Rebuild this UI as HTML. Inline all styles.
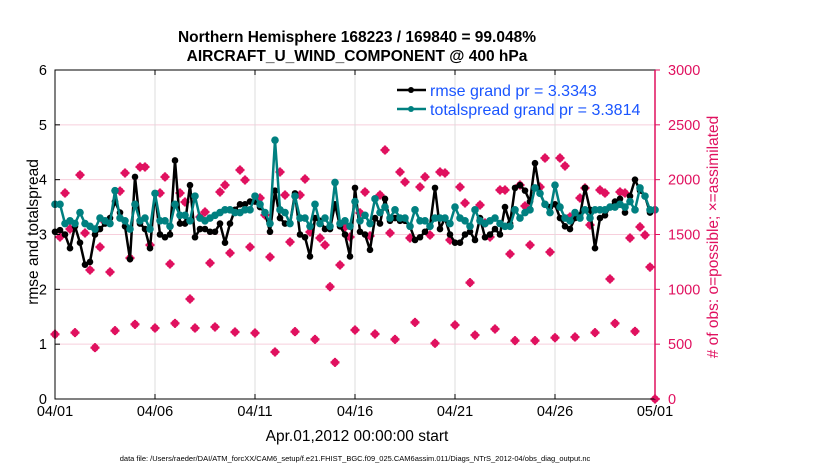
<!DOCTYPE html>
<html><head><meta charset="utf-8"><style>
body{margin:0;background:#fff;}
svg text{font-family:"Liberation Sans",sans-serif;}
</style></head><body>
<svg id="chart" width="830" height="470" viewBox="0 0 830 470" xmlns="http://www.w3.org/2000/svg">
<rect width="830" height="470" fill="#fff"/>
<text x="357" y="42" text-anchor="middle" font-size="15.5" font-weight="bold">Northern Hemisphere 168223 / 169840 = 99.048%</text>
<text x="357" y="61" text-anchor="middle" font-size="15.5" font-weight="bold">AIRCRAFT_U_WIND_COMPONENT @ 400 hPa</text>
<g id="grid"></g>
<g id="obs"></g>
<g id="lines"></g>
<g id="axes"></g>
<g>
<line x1="397" y1="90" x2="426" y2="90" stroke="#000" stroke-width="2.5"/><circle cx="411" cy="90" r="3" fill="#000"/>
<text x="430" y="96" font-size="16" fill="#1a55ff">rmse grand pr = 3.3343</text>
<line x1="397" y1="109" x2="426" y2="109" stroke="#008080" stroke-width="2.5"/><circle cx="411" cy="109" r="3" fill="#008080"/>
<text x="430" y="115" font-size="16" fill="#1a55ff">totalspread grand pr = 3.3814</text>
</g>
<text transform="translate(38,232) rotate(-90)" text-anchor="middle" font-size="15.5">rmse and totalspread</text>
<text transform="translate(718,237) rotate(-90)" text-anchor="middle" font-size="15.5" fill="#e0115f"># of obs: o=possible; ×=assimilated</text>
<text x="357" y="441" text-anchor="middle" font-size="15.5">Apr.01,2012 00:00:00 start</text>
<text x="355" y="461" text-anchor="middle" font-size="7.5">data file: /Users/raeder/DAI/ATM_forcXX/CAM6_setup/f.e21.FHIST_BGC.f09_025.CAM6assim.011/Diags_NTrS_2012-04/obs_diag_output.nc</text>
</svg>
<script>
const rmse=[3.05,3.08,3.0,2.75,3.15,2.85,2.45,2.5,3.0,3.1,3.2,3.3,3.6,3.4,3.15,2.55,4.05,3.2,3.1,2.75,3.75,3.0,2.95,3.0,4.35,3.2,3.2,3.9,2.95,3.1,3.1,3.05,3.05,3.2,2.85,3.2,3.45,3.55,3.55,3.6,
3.6,3.5,3.4,3.05,3.8,3.3,3.2,3.2,3.75,3.0,2.95,2.6,3.3,3.25,3.1,3.1,3.55,3.15,3.0,2.6,3.85,3.05,3.0,2.72,3.3,3.2,3.65,3.25,3.3,3.25,3.25,3.15,2.9,2.95,3.05,3.15,3.85,3.1,3.3,3.0,2.85,
2.85,3.0,3.05,2.9,3.3,2.95,3.0,3.1,3.0,3.5,3.2,3.85,3.9,3.8,3.6,4.3,3.75,3.55,3.5,3.55,3.3,3.15,3.1,3.3,3.35,3.85,3.45,2.75,3.3,3.35,3.5,3.6,3.65,3.4,3.7,4.0,3.8,3.7,3.4,3.45];
const spread=[3.55,3.55,3.2,3.25,3.2,3.4,3.2,3.15,3.1,3.3,3.25,3.2,3.8,3.3,3.25,3.1,3.55,3.25,3.3,3.1,3.75,3.25,3.25,3.15,3.55,3.35,3.35,3.25,3.7,3.3,3.25,3.3,3.35,3.4,3.45,3.45,3.4,3.4,3.45,3.45,
3.7,3.55,3.4,3.2,4.72,3.45,3.4,3.2,3.7,3.3,3.3,3.15,3.55,3.2,3.3,3.15,3.95,3.2,3.25,3.15,3.6,3.25,3.35,3.2,3.65,3.4,3.5,3.3,3.45,3.3,3.3,3.15,3.45,3.25,3.25,3.15,3.3,3.3,3.3,3.2,3.5,
3.3,3.25,3.15,3.45,3.25,3.2,3.25,3.3,3.2,3.15,3.15,3.45,3.3,3.4,3.45,3.85,3.75,3.55,3.4,3.9,3.5,3.3,3.25,3.4,3.3,3.45,3.3,3.45,3.45,3.45,3.5,3.5,3.55,3.5,3.6,3.45,3.85,3.7,3.45,3.45];
// obs counts every 6h (00,06,12,18Z)
const obsUsed=[590,1477,1878,1550, 605,2043,1514,1176, 468,1386,1614,1158, 623,1896,2061,1286, 681,2116,2116,1404, 647,1878,2025,1231,
690,1878,1796,912, 647,1660,1705,1240, 657,1888,1951,1331, 611,2088,1997,1386, 602,1833,1678,1295, 429,2070,1860,1432,
614,1860,2006,1523, 544,1468,1404,1024, 334,1222,1569,1477, 629,1697,1888,1487, 593,1860,2270,1514, 544,2070,1979,1468,
699,1933,2025,1495, 508,2070,2061,1450, 675,1933,1787,1061, 583,1769,1605,1477, 638,1906,1906,1322, 532,1951,1760,1404,
532,1933,2197,1340, 559,2197,2125,1660, 565,1833,1924,1587, 605,1906,1878,1094, 690,1888,1878,1468, 617,1569,1495,1203, 0];
const obsPossible=obsUsed.map(v=>v);
const xTickLabels=["04/01","04/06","04/11","04/16","04/21","04/26","05/01"];
const yLeftTicks=[0,1,2,3,4,5,6];
const yRightTicks=[0,500,1000,1500,2000,2500,3000];

const X0=55,X1=655,Y0=399,Y1=70,NS="http://www.w3.org/2000/svg",PINK='#e0115f';
const xDay=d=>X0+(X1-X0)*d/30;
const yL=v=>Y0-(Y0-Y1)*v/6;
const yR=v=>Y0-(Y0-Y1)*v/3000;
function mk(t,a,p){const e=document.createElementNS(NS,t);for(const k in a)e.setAttribute(k,a[k]);p.appendChild(e);return e;}
const grid=document.getElementById('grid'),axes=document.getElementById('axes'),obs=document.getElementById('obs'),lines=document.getElementById('lines');
yLeftTicks.forEach(v=>{if(v>0&&v<6){const l=mk('line',{x1:X0,x2:X1,y1:yL(v),y2:yL(v),stroke:'#f7cfdc','stroke-width':1},grid);

}});
xTickLabels.forEach((s,i)=>{const x=xDay(i*5);
if(i>0&&i<6){const g=mk('line',{x1:x,x2:x,y1:Y1,y2:Y0,stroke:'#dcdcdc','stroke-width':1},grid);

}
mk('line',{x1:x,x2:x,y1:Y0,y2:Y0-5,stroke:'#000'},axes);mk('line',{x1:x,x2:x,y1:Y1,y2:Y1+5,stroke:'#000'},axes);
const t=mk('text',{x:x,y:Y0+17,'text-anchor':'middle','font-size':14.5},axes);t.textContent=s;

});
yLeftTicks.forEach(v=>{const y=yL(v);mk('line',{x1:X0,x2:X0+5,y1:y,y2:y,stroke:'#000'},axes);
const t=mk('text',{x:X0-8,y:y+5,'text-anchor':'end','font-size':14.5},axes);t.textContent=v;

});
yRightTicks.forEach(v=>{const y=yR(v);mk('line',{x1:X1,x2:X1+5,y1:y,y2:y,stroke:PINK},axes);
const t=mk('text',{x:X1+13,y:y+5,'font-size':14.5,fill:PINK},axes);t.textContent=v;

});
mk('rect',{x:X0,y:Y1,width:X1-X0,height:Y0-Y1,fill:'none',stroke:'#000','stroke-width':1},axes);
mk('line',{x1:X1,x2:X1,y1:Y1,y2:Y0,stroke:PINK,'stroke-width':1.5},axes);
obsPossible.forEach((v,i)=>{const c=mk('circle',{cx:xDay(i*0.25),cy:yR(v),r:3,fill:'none',stroke:PINK,'stroke-width':1.5},obs);

});
obsUsed.forEach((v,i)=>{const x=xDay(i*0.25),y=yR(v);
const g=mk('g',{transform:`translate(${x},${y})`},obs);


mk('rect',{x:-3,y:-3,width:6,height:6,fill:PINK,transform:'rotate(45)'},g);
mk('path',{d:'M-4.5 0H4.5M0 -4.5V4.5',stroke:PINK,'stroke-width':2.2},g);});
function series(vals,color,name,r){
const pts=vals.map((v,i)=>xDay(i*0.25)+','+yL(v)).join(' ');
const pl=mk('polyline',{points:pts,fill:'none',stroke:color,'stroke-width':2.5,'stroke-linejoin':'round'},lines);


vals.forEach((v,i)=>{const c=mk('circle',{cx:xDay(i*0.25),cy:yL(v),r:r,fill:color},lines);

});}
series(rmse,'#000','rmse',3.3);
series(spread,'#008080','totalspread',3.8);
</script>
</body></html>
